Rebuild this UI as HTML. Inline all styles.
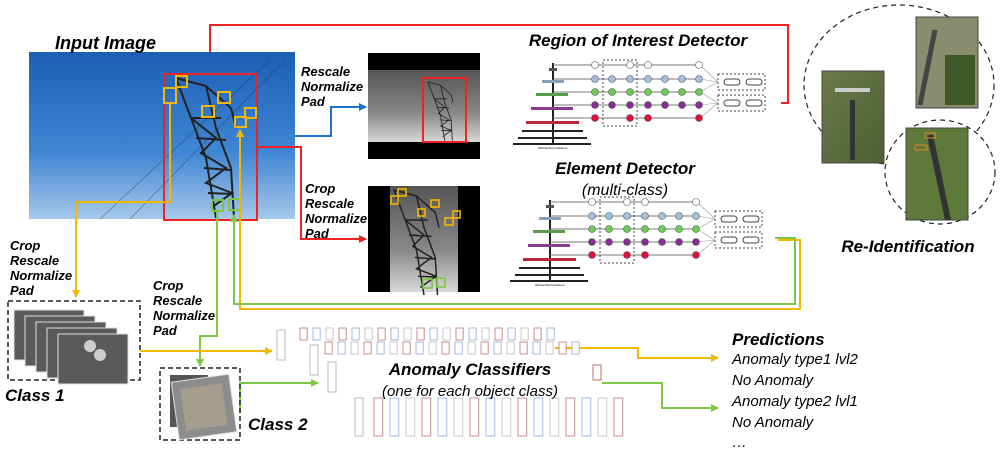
<!DOCTYPE html>
<html><head><meta charset="utf-8"><style>
html,body{margin:0;padding:0;background:#fff;}
svg{display:block;}
text{font-family:"Liberation Sans",Arial,sans-serif;}
.t{font-weight:bold;font-style:italic;fill:#000;}
</style></head><body>
<svg id="s" width="1004" height="452" viewBox="0 0 1004 452" xmlns="http://www.w3.org/2000/svg">
<defs>
<linearGradient id="sky" x1="0" y1="0" x2="0" y2="1"><stop offset="0" stop-color="#1c5fb5"/><stop offset="0.6" stop-color="#3f86d4"/><stop offset="1" stop-color="#a6c8ea"/></linearGradient>
<linearGradient id="gsky" x1="0" y1="0" x2="0" y2="1"><stop offset="0" stop-color="#555"/><stop offset="0.6" stop-color="#888"/><stop offset="1" stop-color="#d8d8d8"/></linearGradient>
<linearGradient id="grass" x1="0" y1="0" x2="1" y2="1"><stop offset="0" stop-color="#6d7a4a"/><stop offset="1" stop-color="#4d5f33"/></linearGradient>
<marker id="ay" markerWidth="8" markerHeight="8" refX="7" refY="4" orient="auto" markerUnits="userSpaceOnUse"><path d="M0,0 L8,4 L0,8z" fill="#f5b800"/></marker>
<marker id="ag" markerWidth="8" markerHeight="8" refX="7" refY="4" orient="auto" markerUnits="userSpaceOnUse"><path d="M0,0 L8,4 L0,8z" fill="#7cc843"/></marker>
<marker id="ar" markerWidth="8" markerHeight="8" refX="7" refY="4" orient="auto" markerUnits="userSpaceOnUse"><path d="M0,0 L8,4 L0,8z" fill="#ee2222"/></marker>
<marker id="ab" markerWidth="8" markerHeight="8" refX="7" refY="4" orient="auto" markerUnits="userSpaceOnUse"><path d="M0,0 L8,4 L0,8z" fill="#1a73d0"/></marker>
<g id="tower" fill="none" stroke="#222" stroke-width="2">
<path d="M0,0 L30,8 L55,30 L60,50 M0,0 L15,40 L30,80 L40,140 M30,8 L40,50 L55,90 L58,140 M15,40 L45,40 M20,60 L50,62 M28,90 L55,92 M32,115 L57,116 M15,40 L40,60 L25,75 L50,90 L30,105 L56,115 L35,130"/>
</g>
<g id="net">
<g stroke="#222" stroke-width="2"><line x1="553" y1="63" x2="553" y2="145"/></g>
<rect x="549" y="68" width="8" height="3" fill="#555"/>
<rect x="542" y="80" width="22" height="3" fill="#8aa0b8"/>
<rect x="536" y="93" width="32" height="3" fill="#5a9a4a"/>
<rect x="531" y="107" width="42" height="3" fill="#8a3a90"/>
<rect x="526" y="121" width="53" height="3" fill="#b8283c"/>
<rect x="522" y="130" width="61" height="2" fill="#222"/>
<rect x="518" y="137" width="69" height="2" fill="#222"/>
<rect x="513" y="143" width="78" height="2" fill="#222"/>
<g stroke="#777" stroke-width="1"><line x1="553" y1="65" x2="700" y2="65"/><line x1="553" y1="79" x2="700" y2="79"/><line x1="553" y1="92" x2="700" y2="92"/><line x1="553" y1="105" x2="700" y2="105"/><line x1="553" y1="118" x2="700" y2="118"/></g>
<rect x="603" y="60" width="34" height="66" fill="none" stroke="#444" stroke-dasharray="2,2"/>
<rect x="718" y="74" width="47" height="16" fill="none" stroke="#444" stroke-dasharray="2,2"/>
<rect x="718" y="95" width="47" height="16" fill="none" stroke="#444" stroke-dasharray="2,2"/>
<g fill="none" stroke="#444"><rect x="724" y="79" width="16" height="6" rx="3"/><rect x="746" y="79" width="16" height="6" rx="3"/><rect x="724" y="100" width="16" height="6" rx="3"/><rect x="746" y="100" width="16" height="6" rx="3"/></g>
<g stroke="#999" stroke-width="0.6"><path d="M700,65 L718,82 M700,79 L718,82 M700,92 L718,82 M700,105 L718,103 M700,118 L718,103 M700,92 L718,103"/></g>
<text x="553" y="149" font-size="3" text-anchor="middle">EfficientNet backbone</text>
<g id="nodes"></g>
</g>
</defs>

<!-- input image -->
<rect x="29" y="52" width="266" height="167" fill="url(#sky)"/>
<line x1="100" y1="219" x2="270" y2="60" stroke="#234" stroke-width="0.5"/>
<line x1="130" y1="219" x2="285" y2="60" stroke="#234" stroke-width="0.5"/>
<use href="#tower" transform="translate(176,78)"/>
<rect x="164" y="74" width="93" height="146" fill="none" stroke="#ee2222" stroke-width="2"/>
<g fill="none" stroke="#f5b800" stroke-width="2">
<rect x="176" y="76" width="11" height="11"/><rect x="164" y="88" width="12" height="15"/><rect x="218" y="92" width="12" height="11"/><rect x="202" y="106" width="12" height="11"/><rect x="245" y="108" width="11" height="10"/><rect x="235" y="117" width="11" height="10"/></g>
<g fill="none" stroke="#7cc843" stroke-width="2"><rect x="212" y="200" width="11" height="11"/><rect x="229" y="199" width="11" height="11"/></g>
<text x="55" y="49" class="t" font-size="18">Input Image</text>

<!-- rescaled image -->
<rect x="368" y="53" width="112" height="106" fill="#000"/>
<rect x="368" y="70" width="112" height="72" fill="url(#gsky)"/>
<use href="#tower" transform="translate(428,82) scale(0.42)"/>
<rect x="423" y="78" width="43" height="64" fill="none" stroke="#ee2222" stroke-width="2"/>
<!-- crop image -->
<rect x="368" y="186" width="112" height="106" fill="#000"/>
<rect x="390" y="186" width="68" height="106" fill="url(#gsky)"/>
<use href="#tower" transform="translate(394,190) scale(0.75)"/>
<g fill="none" stroke="#f5b800" stroke-width="1.6"><rect x="398" y="189" width="8" height="7"/><rect x="391" y="196" width="7" height="8"/><rect x="431" y="200" width="8" height="7"/><rect x="418" y="209" width="7" height="7"/><rect x="453" y="211" width="7" height="7"/><rect x="445" y="218" width="8" height="7"/></g>
<g fill="none" stroke="#7cc843" stroke-width="1.6"><rect x="423" y="279" width="9" height="9"/><rect x="437" y="278" width="8" height="9"/></g>

<text class="t" font-size="13"><tspan x="301" y="76">Rescale</tspan><tspan x="301" y="91">Normalize</tspan><tspan x="301" y="106">Pad</tspan></text>
<text class="t" font-size="13"><tspan x="305" y="193">Crop</tspan><tspan x="305" y="208">Rescale</tspan><tspan x="305" y="223">Normalize</tspan><tspan x="305" y="238">Pad</tspan></text>
<text class="t" font-size="13"><tspan x="10" y="250">Crop</tspan><tspan x="10" y="265">Rescale</tspan><tspan x="10" y="280">Normalize</tspan><tspan x="10" y="295">Pad</tspan></text>
<text class="t" font-size="13"><tspan x="153" y="290">Crop</tspan><tspan x="153" y="305">Rescale</tspan><tspan x="153" y="320">Normalize</tspan><tspan x="153" y="335">Pad</tspan></text>

<!-- connectors -->
<path d="M295,136 H331 V107 H366" fill="none" stroke="#1a73d0" stroke-width="2" marker-end="url(#ab)"/>
<path d="M257,147 H301 V239 H366" fill="none" stroke="#ee2222" stroke-width="2" marker-end="url(#ar)"/>
<path d="M210,52 V25 H788 V103 H781" fill="none" stroke="#ee2222" stroke-width="2"/>
<path d="M170,103 V202 H76 V297" fill="none" stroke="#f5b800" stroke-width="2" marker-end="url(#ay)"/>
<path d="M778,240 H800 V309 H240 V130" fill="none" stroke="#f5b800" stroke-width="2" marker-end="url(#ay)"/>
<path d="M775,238 H795 V304 H234 V215" fill="none" stroke="#7cc843" stroke-width="2" marker-end="url(#ag)"/>
<path d="M217,211 V336 H200 V366" fill="none" stroke="#7cc843" stroke-width="2" marker-end="url(#ag)"/>
<path d="M140,351 H272" fill="none" stroke="#f5b800" stroke-width="2" marker-end="url(#ay)"/>
<path d="M240,413 V383 H318" fill="none" stroke="#7cc843" stroke-width="2" marker-end="url(#ag)"/>
<path d="M555,348 H638 V358 H718" fill="none" stroke="#f5b800" stroke-width="2" marker-end="url(#ay)"/>
<path d="M602,383 H662 V408 H718" fill="none" stroke="#7cc843" stroke-width="2" marker-end="url(#ag)"/>

<!-- detectors -->
<text x="638" y="46" class="t" font-size="17" text-anchor="middle">Region of Interest Detector</text>
<use href="#net"/>
<text x="625" y="174" class="t" font-size="17" text-anchor="middle">Element Detector</text>
<text x="625" y="195" font-size="16" font-style="italic" text-anchor="middle">(multi-class)</text>
<use href="#net" transform="translate(-3,137)"/>

<!-- re-id -->
<ellipse cx="899" cy="85" rx="95" ry="80" fill="none" stroke="#222" stroke-width="1.2" stroke-dasharray="5,4"/>
<ellipse cx="940" cy="172" rx="55" ry="52" fill="#fff" stroke="#222" stroke-width="1.2" stroke-dasharray="5,4"/>
<rect x="822" y="71" width="62" height="92" fill="url(#grass)" stroke="#444"/>
<rect x="850" y="100" width="5" height="60" fill="#333"/><rect x="835" y="88" width="35" height="4" fill="#ccc"/>
<rect x="916" y="17" width="62" height="91" fill="#8a8c70" stroke="#444"/>
<rect x="945" y="55" width="30" height="50" fill="#3d5a28"/><path d="M935,30 L920,105" stroke="#444" stroke-width="5"/>
<rect x="906" y="128" width="62" height="92" fill="#5d7a3a" stroke="#444"/>
<path d="M930,135 L948,220" stroke="#333" stroke-width="6"/>
<g fill="none" stroke="#e08a20"><rect x="925" y="133" width="10" height="5"/><rect x="915" y="145" width="12" height="5"/></g>
<text x="908" y="252" class="t" font-size="17" text-anchor="middle">Re-Identification</text>

<!-- class boxes -->
<rect x="8" y="301" width="132" height="79" fill="none" stroke="#222" stroke-width="1.5" stroke-dasharray="5,3"/>
<g id="stack"></g>
<text x="5" y="401" class="t" font-size="17">Class 1</text>
<rect x="160" y="368" width="80" height="72" fill="none" stroke="#222" stroke-width="1.5" stroke-dasharray="5,3"/>
<rect x="170" y="375" width="38" height="52" fill="#555"/>
<rect x="175" y="378" width="58" height="58" fill="#8c8c8c" stroke="#ddd" transform="rotate(-8 204 407)"/>
<rect x="183" y="386" width="42" height="42" fill="#a59c8c" transform="rotate(-8 204 407)"/>
<text x="248" y="430" class="t" font-size="17">Class 2</text>

<!-- anomaly nets -->
<g id="anet"></g>
<text x="470" y="375" class="t" font-size="17" text-anchor="middle">Anomaly Classifiers</text>
<text x="470" y="396" font-size="15" font-style="italic" text-anchor="middle">(one for each object class)</text>

<text class="t" font-size="17" x="732" y="345">Predictions</text>
<g font-size="15" font-style="italic"><text x="732" y="364">Anomaly type1 lvl2</text><text x="732" y="385">No Anomaly</text><text x="732" y="406">Anomaly type2 lvl1</text><text x="732" y="427">No Anomaly</text><text x="732" y="447">…</text></g>
</svg>
<script>
var NS="http://www.w3.org/2000/svg";
function el(p,t,a){var e=document.createElementNS(NS,t);for(var k in a)e.setAttribute(k,a[k]);p.appendChild(e);return e;}
var nodes=document.getElementById("nodes");
var cols=[595,612,630,648,665,682,699],rows=[[65,"#fff"],[79,"#9cc3e6"],[92,"#6dcc5a"],[105,"#8a2c98"],[118,"#e0103a"]];
cols.forEach(function(x,i){rows.forEach(function(r,j){if((i==1||i==4||i==5)&&(j==0||j==4))return;el(nodes,"circle",{cx:x,cy:r[0],r:3.5,fill:r[1],stroke:"#555","stroke-width":0.6});});});
var st=document.getElementById("stack");
for(var i=0;i<5;i++){el(st,"rect",{x:14+i*11,y:310+i*6,width:70,height:50,fill:"#5a5a5a",stroke:"#ddd"});}
el(st,"circle",{cx:90,cy:346,r:6,fill:"#ccc"});el(st,"circle",{cx:100,cy:355,r:6,fill:"#ccc"});
var an=document.getElementById("anet");
function row(x0,y0,n,h,step){for(var i=0;i<n;i++){var c=i%3==0?"#c07070":(i%3==1?"#8fa8d8":"#bbb");el(an,"rect",{x:x0+i*step,y:y0,width:step*0.55,height:h,fill:"#fff",stroke:c,"stroke-width":0.8});}}
el(an,"rect",{x:277,y:330,width:8,height:30,fill:"#fff",stroke:"#bbb"});
el(an,"rect",{x:310,y:345,width:8,height:30,fill:"#fff",stroke:"#bbb"});
el(an,"rect",{x:328,y:362,width:8,height:30,fill:"#fff",stroke:"#bbb"});
el(an,"rect",{x:355,y:398,width:8,height:38,fill:"#fff",stroke:"#bbb"});
row(300,328,20,12,13);row(325,342,20,12,13);row(374,398,16,38,16);
el(an,"rect",{x:593,y:365,width:8,height:15,fill:"#fff",stroke:"#c07070"});
</script>
</body></html>
